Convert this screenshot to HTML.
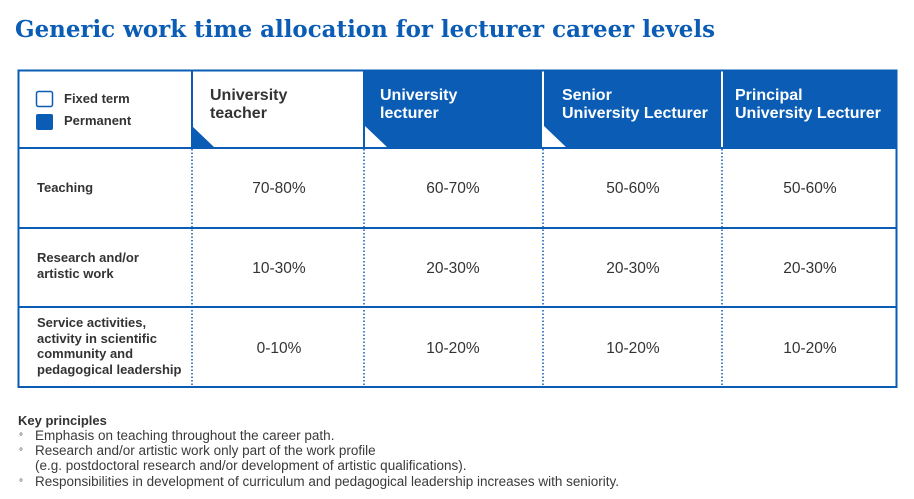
<!DOCTYPE html>
<html><head><meta charset="utf-8"><style>
html,body{margin:0;padding:0;background:#fff;width:914px;height:499px;overflow:hidden}
svg{display:block}
.h{font-family:"Liberation Sans",sans-serif;font-weight:bold;font-size:16px}
.l{font-family:"Liberation Sans",sans-serif;font-weight:bold;font-size:13px;fill:#333}
.v{font-family:"Liberation Sans",sans-serif;font-size:15.5px;fill:#333}
.k{font-family:"Liberation Sans",sans-serif;font-size:13.5px;fill:#3a3a3a}
</style></head><body>
<svg width="914" height="499" viewBox="0 0 914 499" xmlns="http://www.w3.org/2000/svg">
<text x="15" y="37" font-family="DejaVu Serif,Liberation Serif,serif" font-weight="bold" font-size="23" fill="#0a5cb4" textLength="700" lengthAdjust="spacingAndGlyphs">Generic work time allocation for lecturer career levels</text>
<rect x="364" y="70" width="533" height="78" fill="#0a5cb4"/>
<line x1="543" y1="70" x2="543" y2="148" stroke="#fff" stroke-width="2"/>
<line x1="722" y1="70" x2="722" y2="148" stroke="#fff" stroke-width="2"/>
<polygon points="192,126 192,148 215,148" fill="#0a5cb4"/>
<polygon points="365,126 365,148 388,148" fill="#fff"/>
<polygon points="544,126 544,148 567,148" fill="#fff"/>
<rect x="18.5" y="70.5" width="878" height="316.5" fill="none" stroke="#0a5cb4" stroke-width="2"/>
<line x1="18" y1="148" x2="897" y2="148" stroke="#0a5cb4" stroke-width="2"/>
<line x1="18" y1="228" x2="897" y2="228" stroke="#0a5cb4" stroke-width="2"/>
<line x1="18" y1="307" x2="897" y2="307" stroke="#0a5cb4" stroke-width="2"/>
<line x1="192" y1="70" x2="192" y2="148" stroke="#0a5cb4" stroke-width="2"/>
<line x1="364" y1="70" x2="364" y2="148" stroke="#0a5cb4" stroke-width="2"/>
<g stroke="#0a5cb4" stroke-width="1.5" stroke-dasharray="1.5,2">
<line x1="192" y1="149" x2="192" y2="386"/>
<line x1="364" y1="149" x2="364" y2="386"/>
<line x1="543" y1="149" x2="543" y2="386"/>
<line x1="722" y1="149" x2="722" y2="386"/>
</g>
<rect x="36.5" y="91.5" width="16" height="15" rx="2" fill="#fff" stroke="#0a5cb4" stroke-width="1.5"/>
<rect x="36" y="114" width="17" height="16" rx="2" fill="#0a5cb4"/>
<text class="l" x="64" y="103">Fixed term</text>
<text class="l" x="64" y="125">Permanent</text>
<text class="h" x="210" y="100" fill="#333">University</text>
<text class="h" x="210" y="118" fill="#333">teacher</text>
<text class="h" x="380" y="100" fill="#fff">University</text>
<text class="h" x="380" y="118" fill="#fff">lecturer</text>
<text class="h" x="562" y="100" fill="#fff">Senior</text>
<text class="h" x="562" y="118" fill="#fff">University Lecturer</text>
<text class="h" x="735" y="100" fill="#fff">Principal</text>
<text class="h" x="735" y="118" fill="#fff">University Lecturer</text>
<text class="l" x="37" y="192">Teaching</text>
<text class="l" x="37" y="262">Research and/or</text>
<text class="l" x="37" y="278">artistic work</text>
<text class="l" x="37" y="327">Service activities,</text>
<text class="l" x="37" y="343">activity in scientific</text>
<text class="l" x="37" y="358">community and</text>
<text class="l" x="37" y="374">pedagogical leadership</text>
<g class="v" text-anchor="middle">
<text x="279" y="193">70-80%</text><text x="453" y="193">60-70%</text><text x="633" y="193">50-60%</text><text x="810" y="193">50-60%</text>
<text x="279" y="273">10-30%</text><text x="453" y="273">20-30%</text><text x="633" y="273">20-30%</text><text x="810" y="273">20-30%</text>
<text x="279" y="353">0-10%</text><text x="453" y="353">10-20%</text><text x="633" y="353">10-20%</text><text x="810" y="353">10-20%</text>
</g>
<text class="l" x="18" y="425" font-size="13.5">Key principles</text>
<g class="k">
<text x="19" y="440" font-size="10">°</text><text x="35" y="440">Emphasis on teaching throughout the career path.</text>
<text x="19" y="455" font-size="10">°</text><text x="35" y="455">Research and/or artistic work only part of the work profile</text>
<text x="35" y="470">(e.g. postdoctoral research and/or development of artistic qualifications).</text>
<text x="19" y="486" font-size="10">°</text><text x="35" y="486" textLength="584" lengthAdjust="spacingAndGlyphs">Responsibilities in development of curriculum and pedagogical leadership increases with seniority.</text>
</g>
</svg>
</body></html>
